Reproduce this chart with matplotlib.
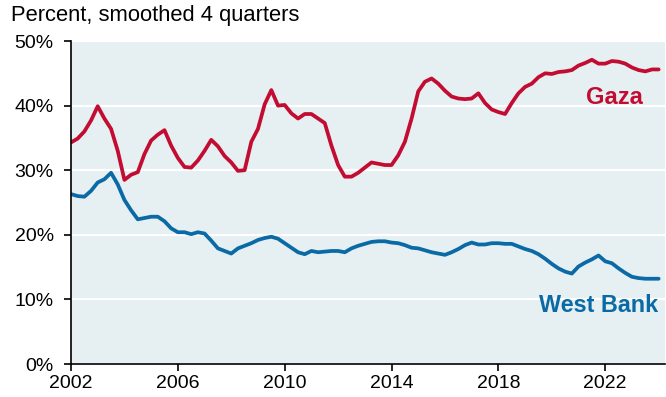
import numpy as np
import matplotlib.pyplot as plt

plt.rcParams['font.family'] = ['Liberation Sans', 'DejaVu Sans']

# quarterly, starting 2002Q1
start_year = 2002
gaza = [34.3, 34.9, 36.0, 37.7, 39.9, 38.0, 36.4, 33.0, 28.5, 29.3,
        29.7, 32.5, 34.6, 35.5, 36.2, 33.8, 31.9, 30.5, 30.4, 31.5,
        33.0, 34.7, 33.7, 32.2, 31.2, 29.9, 30.0, 34.4, 36.4, 40.2,
        42.4, 40.0, 40.1, 38.8, 38.0, 38.7, 38.7, 38.0, 37.3, 33.8,
        30.8, 29.0, 29.0, 29.6, 30.4, 31.2, 31.0, 30.8, 30.8, 32.3,
        34.4, 38.0, 42.2, 43.7, 44.2, 43.4, 42.3, 41.4, 41.1, 41.0,
        41.1, 41.9, 40.4, 39.4, 39.0, 38.7, 40.4, 41.9, 42.9, 43.4,
        44.4, 45.0, 44.9, 45.2, 45.3, 45.5, 46.2, 46.6, 47.1, 46.5,
        46.5, 46.9, 46.8, 46.5, 45.9, 45.5, 45.3, 45.6, 45.6]
west_bank = [26.3, 26.0, 25.9, 26.8, 28.1, 28.6, 29.6, 27.8, 25.4, 23.8,
             22.4, 22.6, 22.8, 22.8, 22.1, 21.0, 20.4, 20.4, 20.1, 20.4,
             20.2, 19.1, 17.9, 17.5, 17.1, 17.9, 18.3, 18.7, 19.2, 19.5,
             19.7, 19.4, 18.7, 18.0, 17.3, 17.0, 17.5, 17.3, 17.4, 17.5,
             17.5, 17.3, 17.9, 18.3, 18.6, 18.9, 19.0, 19.0, 18.8, 18.7,
             18.4, 18.0, 17.9, 17.6, 17.3, 17.1, 16.9, 17.3, 17.8, 18.4,
             18.8, 18.5, 18.5, 18.7, 18.7, 18.6, 18.6, 18.2, 17.8, 17.5,
             17.0, 16.3, 15.5, 14.8, 14.3, 14.0, 15.1, 15.7, 16.2, 16.8,
             15.9, 15.6, 14.8, 14.1, 13.5, 13.3, 13.2, 13.2, 13.2]
x_ticks = [2002, 2006, 2010, 2014, 2018, 2022]
y_ticks = [0, 10, 20, 30, 40, 50]

red = '#c30c32'
blue = '#0a6aa6'

years = start_year + np.arange(len(gaza)) * 0.25

fig = plt.figure(figsize=(6.66, 3.97), dpi=100)
ax = fig.add_axes([0.1066, 0.0831, 0.8924, 0.8136])
ax.set_facecolor('#e6eff2')

ax.plot(years, gaza, color=red, lw=2.7, solid_capstyle='round')
ax.plot(years, west_bank, color=blue, lw=2.7, solid_capstyle='round')

ax.set_xlim(2002, 2024.25)
ax.set_ylim(0, 50)
ax.set_xticks(x_ticks)
ax.set_xticklabels([str(t) for t in x_ticks])
ax.set_yticks(y_ticks)
ax.set_yticklabels([f'{t}%' for t in y_ticks])
ax.tick_params(axis='both', labelsize=14, length=5, width=1.2, color='black', direction='out')
ax.tick_params(axis='y', pad=7.5)
ax.tick_params(axis='x', pad=3)

ax.grid(axis='y', color='white', lw=1.6)
ax.set_axisbelow(True)
for s in ['top', 'right']:
    ax.spines[s].set_visible(False)
for s in ['left', 'bottom']:
    ax.spines[s].set_linewidth(1.2)

ax.text(2023.42, 41.2, 'Gaza', color=red, fontsize=17, fontweight='bold', ha='right', va='center')
ax.text(2023.98, 9.0, 'West Bank', color=blue, fontsize=16.8, fontweight='bold', ha='right', va='center')

fig.text(0.016, 0.962, 'Percent, smoothed 4 quarters', fontsize=15.8, ha='left', va='center')

fig.savefig('out.png', dpi=100)
